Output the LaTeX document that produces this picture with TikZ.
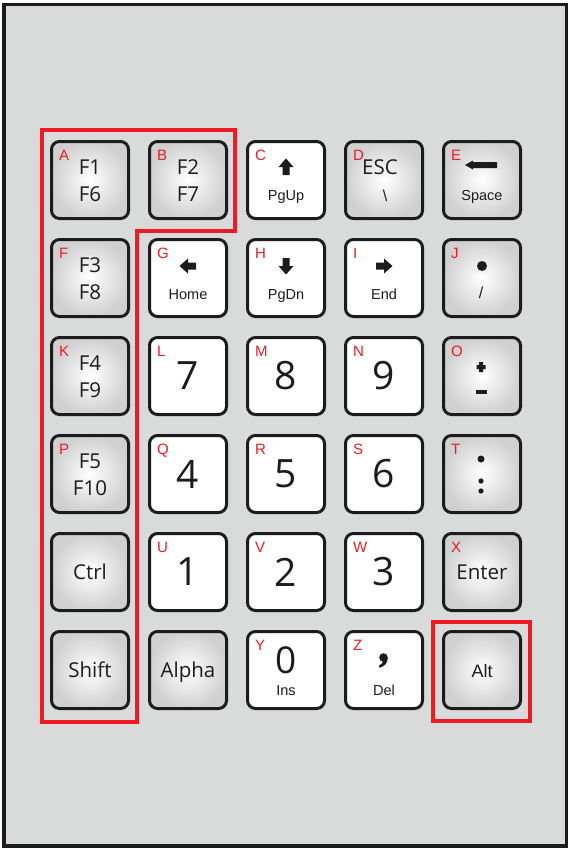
\documentclass[tikz,border=0pt]{standalone}
\usepackage{fontspec}
\setmainfont{Open Sans}
\newfontfamily\labfont{Liberation Sans}
\usetikzlibrary{positioning}

\definecolor{panelgray}{RGB}{217,219,219}
\definecolor{keyedge}{RGB}{208,208,208}
\definecolor{keyline}{RGB}{28,28,28}
\definecolor{markred}{RGB}{237,28,36}

\tikzset{
  key/.style={draw=keyline,line width=3pt,rounded corners=8pt,minimum size=77pt,inner sep=0pt},
  plainkey/.style={key,fill=white},
  shadekey/.style={key,inner color=white,outer color=keyedge},
  letter/.style={markred,font=\labfont\fontsize{15}{15}\selectfont,inner sep=0pt,anchor=north west},
  bigtxt/.style={keyline,font=\fontsize{20.5}{20.5}\selectfont,inner sep=0pt},
  digit/.style={keyline,font=\fontsize{39}{39}\selectfont,inner sep=0pt},
  smalltxt/.style={keyline,font=\labfont\fontsize{14.5}{14.5}\selectfont,inner sep=0pt,anchor=base},
  outline/.style={draw=markred,line width=4pt,line join=miter}
}

% block arrow on a key: node, lift, turn
\newcommand\keyarrow[3]{%
  \fill[keyline,shift={([yshift=#2]#1.center)},rotate=#3]
    (0,-8.5) -- (7.5,0) -- (3.5,0) -- (3.5,8) -- (-3.5,8) -- (-3.5,0) -- (-7.5,0) -- cycle;}

\begin{document}
\begin{tikzpicture}[x=1pt,y=-1pt]
\useasboundingbox[fill=white] (0,0) rectangle (571,852);
\draw[line width=3.5pt,draw=keyline,fill=panelgray] (4,4.5) rectangle (566.5,846);

% keys
\node[shadekey] (kA) at (90,180) {};
\node[shadekey] (kB) at (188,180) {};
\node[plainkey] (kC) at (286,180) {};
\node[shadekey] (kD) at (384,180) {};
\node[shadekey] (kE) at (482,180) {};

\node[shadekey] (kF) at (90,278) {};
\node[plainkey] (kG) at (188,278) {};
\node[plainkey] (kH) at (286,278) {};
\node[plainkey] (kI) at (384,278) {};
\node[shadekey] (kJ) at (482,278) {};

\node[shadekey] (kK) at (90,376) {};
\node[plainkey] (kL) at (188,376) {};
\node[plainkey] (kM) at (286,376) {};
\node[plainkey] (kN) at (384,376) {};
\node[shadekey] (kO) at (482,376) {};

\node[shadekey] (kP) at (90,474) {};
\node[plainkey] (kQ) at (188,474) {};
\node[plainkey] (kR) at (286,474) {};
\node[plainkey] (kS) at (384,474) {};
\node[shadekey] (kT) at (482,474) {};

\node[shadekey] (kCtrl) at (90,572) {};
\node[plainkey] (kU) at (188,572) {};
\node[plainkey] (kV) at (286,572) {};
\node[plainkey] (kW) at (384,572) {};
\node[shadekey] (kX) at (482,572) {};

\node[shadekey] (kShift) at (90,670) {};
\node[shadekey] (kAlpha) at (188,670) {};
\node[plainkey] (kY) at (286,670) {};
\node[plainkey] (kZ) at (384,670) {};
\node[shadekey] (kAlt) at (482,670) {};

% red letters
\foreach \k in {A,B,C,D,E,F,G,H,I,J,K,L,M,N,O,P,Q,R,S,T,U,V,W,X,Y,Z}
  \node[letter] (l\k) at ([xshift=9pt,yshift=-10pt]k\k.north west) {\k};

% function keys
\node[bigtxt] (tA1) at ([yshift=13pt]kA.center) {F1};
\node[bigtxt] (tA2) at ([yshift=-14pt]kA.center) {F6};
\node[bigtxt] (tB1) at ([yshift=13pt]kB.center) {F2};
\node[bigtxt] (tB2) at ([yshift=-14pt]kB.center) {F7};
\node[bigtxt] (tF1) at ([yshift=13pt]kF.center) {F3};
\node[bigtxt] (tF2) at ([yshift=-14pt]kF.center) {F8};
\node[bigtxt] (tK1) at ([yshift=13pt]kK.center) {F4};
\node[bigtxt] (tK2) at ([yshift=-14pt]kK.center) {F9};
\node[bigtxt] (tP1) at ([yshift=13pt]kP.center) {F5};
\node[bigtxt] (tP2) at ([yshift=-14pt]kP.center) {F10};

% navigation keys
\keyarrow{kC}{13pt}{0}
\node[smalltxt] (tC) at ([yshift=-20pt]kC.center) {PgUp};
\node[bigtxt] (tD1) at ([xshift=-4pt,yshift=12.5pt]kD.center) {ESC};
\node[smalltxt,font=\labfont\fontsize{16}{16}\selectfont] (tD2) at ([xshift=1pt,yshift=-21pt]kD.center) {\textbackslash};
\fill[keyline,shift={(kE.center)}]
  (-17,-15) -- (-9,-19.5) -- (-9,-18) -- (15,-18) -- (15,-12) -- (-9,-12) -- (-9,-10.5) -- cycle;
\node[smalltxt] (tE) at ([yshift=-20pt]kE.center) {Space};
\keyarrow{kG}{12pt}{90}
\node[smalltxt] (tG) at ([yshift=-21pt]kG.center) {Home};
\keyarrow{kH}{12pt}{180}
\node[smalltxt] (tH) at ([yshift=-21pt]kH.center) {PgDn};
\keyarrow{kI}{12pt}{-90}
\node[smalltxt] (tI) at ([yshift=-21pt]kI.center) {End};
\fill[keyline] ([yshift=12pt]kJ.center) circle[radius=5pt];
\node[smalltxt,font=\labfont\fontsize{16}{16}\selectfont] (tJ) at ([xshift=-1pt,yshift=-20pt]kJ.center) {/};

% sign keys
\fill[keyline,shift={(kO.center)}] (-5.5,-11) rectangle (3.5,-7) (-3,-14) rectangle (1,-4);
\fill[keyline,shift={(kO.center)}] (-6.5,14) rectangle (4.5,18);
\fill[keyline] ([xshift=-1pt,yshift=15pt]kT.center) circle[radius=3.5pt];
\fill[keyline] ([xshift=-1pt,yshift=-7pt]kT.center) circle[radius=2.6pt];
\fill[keyline] ([xshift=-1pt,yshift=-17pt]kT.center) circle[radius=2.6pt];

% digits
\node[digit] (dL) at (kL.center) {7};
\node[digit] (dM) at (kM.center) {8};
\node[digit] (dN) at (kN.center) {9};
\node[digit] (dQ) at (kQ.center) {4};
\node[digit] (dR) at (kR.center) {5};
\node[digit] (dS) at (kS.center) {6};
\node[digit] (dU) at (kU.center) {1};
\node[digit] (dV) at (kV.center) {2};
\node[digit] (dW) at (kW.center) {3};
\node[digit,font=\fontsize{37}{37}\selectfont] (dY) at ([yshift=9.5pt]kY.center) {0};
\node[smalltxt] (tY) at ([yshift=-25pt]kY.center) {Ins};
\fill[keyline] (383.5,657.5) circle[radius=4.3pt];
\fill[keyline] (387.7,658) .. controls (387.8,663) and (384.5,666.5) .. (379.5,667.8)
  -- (379,665.6) .. controls (381.8,664.4) and (383.2,662.5) .. (383.2,660) -- cycle;
\node[smalltxt] (tZ) at ([yshift=-25pt]kZ.center) {Del};

% modifier keys
\node[bigtxt,anchor=base] (tX) at ([yshift=-7.5pt]kX.center) {Enter};
\node[bigtxt,anchor=base] (tCtrl) at ([yshift=-7.5pt]kCtrl.center) {Ctrl};
\node[bigtxt,anchor=base] (tShift) at ([yshift=-7.5pt]kShift.center) {Shift};
\node[bigtxt,anchor=base] (tAlpha) at ([yshift=-7pt]kAlpha.center) {Alpha};
\node[smalltxt,font=\labfont\fontsize{18}{18}\selectfont] (tAlt) at ([yshift=-7pt]kAlt.center) {Alt};

% red groups
\draw[outline] (41.5,129.5) -- (234.5,129.5) -- (234.5,231) -- (136.5,231)
  -- (136.5,721.5) -- (41.5,721.5) -- cycle;
\draw[outline] (432.5,621.5) rectangle (530,721);
\end{tikzpicture}
\end{document}
